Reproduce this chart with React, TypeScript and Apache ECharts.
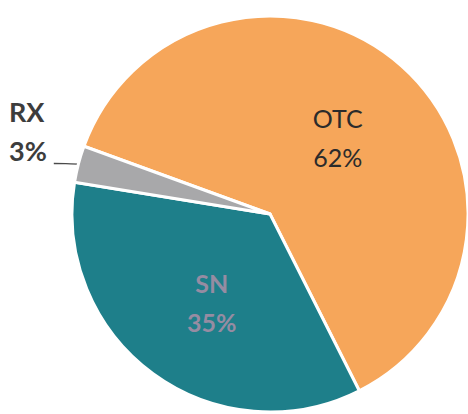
import React, { useEffect, useRef } from "react";
import * as echarts from "echarts";

const categories = ["OTC", "SN", "RX"];
const values = [62, 35, 3];
const colors = ["#F6A65A", "#1E7F8A", "#A8A8AA"];

export default function App() {
  const ref = useRef<HTMLDivElement>(null);
  useEffect(() => {
    if (!ref.current) return;
    const chart = echarts.init(ref.current, null, { renderer: "svg" });
    const data = categories.map((name, i) => {
      const item: any = {
        name,
        value: values[i],
        itemStyle: { color: colors[i] },
      };
      if (name === "OTC") {
        item.label = {
          position: "inside",
          color: "#2b2b2b",
          fontSize: 25,
          lineHeight: 39,
          fontFamily: "Lato",
        };
      } else if (name === "SN") {
        item.label = {
          position: "inside",
          color: "#968ca2",
          fontSize: 25,
          fontWeight: "bold",
          lineHeight: 39,
          fontFamily: "Lato",
          offset: [2, 6],
        };
      } else {
        item.label = {
          position: "outside",
          overflow: "none",
          formatter: "{n|{b}}\n{p|{d}%}\n{e|\u00a0}",
          rich: {
            n: {
              color: "#3d3d3d",
              fontSize: 27,
              fontWeight: "bold",
              lineHeight: 39,
              fontFamily: "Lato",
            },
            p: {
              color: "#3d3d3d",
              fontSize: 27,
              fontWeight: "bold",
              lineHeight: 39,
              fontFamily: "Lato",
              padding: [0, 7, 0, 0],
            },
            e: { fontSize: 10, height: 59, lineHeight: 59, color: "rgba(0,0,0,0)" },
          },
        };
        item.labelLine = {
          show: true,
          length: 6,
          length2: 12,
          smooth: 0.3,
          lineStyle: { color: "#4a4a4a", width: 1.3 },
        };
      }
      return item;
    });
    chart.setOption({
      animation: false,
      series: [
        {
          type: "pie",
          center: [270, 214],
          radius: [0, 198],
          startAngle: 160,
          clockwise: true,
          data,
          itemStyle: { borderColor: "#ffffff", borderWidth: 3 },
          label: { show: true, formatter: "{b}\n{d}%" },
          labelLayout: (params: any) => {
            if (params.dataIndex === 2) {
              return { x: 9, y: 92, align: "left", verticalAlign: "top" };
            }
            return {};
          },
        },
      ],
    });
    return () => chart.dispose();
  }, []);
  return (
    <div
      ref={ref}
      style={{ position: "fixed", left: 0, top: 0, width: 468, height: 414, background: "#fff" }}
    />
  );
}
